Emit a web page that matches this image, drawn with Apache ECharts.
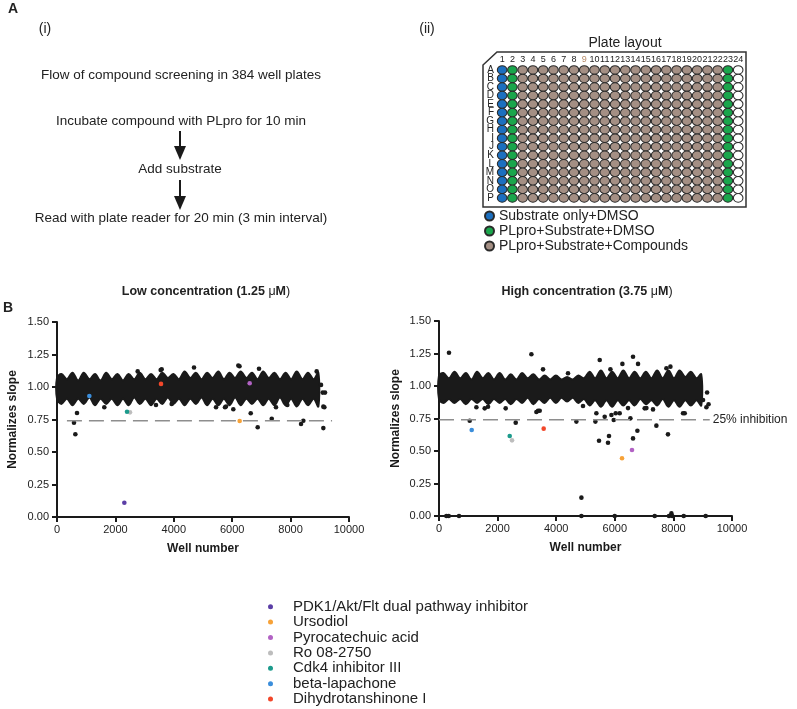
<!DOCTYPE html>
<html>
<head>
<meta charset="utf-8">
<script src="https://cdn.jsdelivr.net/npm/echarts@6/dist/echarts.min.js"></script>
<style>
  html, body { margin: 0; padding: 0; background: #fff; }
  #chart { width: 797px; height: 709px; }
</style>
</head>
<body>
<div id="chart"></div>
<script>
// ---- plate layout ----
const plateRows = ['A', 'B', 'C', 'D', 'E', 'F', 'G', 'H', 'I', 'J', 'K', 'L', 'M', 'N', 'O', 'P'];
const plateCols = ['1', '2', '3', '4', '5', '6', '7', '8', '9', '10', '11', '12', '13', '14', '15', '16', '17', '18', '19', '20', '21', '22', '23', '24'];
const substrateOnlyCols = ['1'];
const dmsoCols = ['2', '23'];
const blankCols = ['24'];
const plateGroups = ['Substrate only+DMSO', 'PLpro+Substrate+DMSO', 'PLpro+Substrate+Compounds'];

// ---- screening data ----
const compoundNames = ['PDK1/Akt/Flt dual pathway inhibitor', 'Ursodiol', 'Pyrocatechuic acid', 'Ro 08-2750', 'Cdk4 inhibitor III', 'beta-lapachone', 'Dihydrotanshinone I'];
const lowCompoundWells = [2306, 6256, 6599, 2500, 2398, 1107, 3562];
const lowCompoundSlopes = [0.11, 0.738, 1.029, 0.805, 0.81, 0.931, 1.024];
const highCompoundWells = [null, 6246, 6587, 2492, 2413, 1116, 3573];
const highCompoundSlopes = [null, 0.444, 0.508, 0.582, 0.615, 0.662, 0.672];

// edges of the dense black band (most wells), one bulge per plate
const bandWells = [0, 150, 340, 530, 725, 915, 1110, 1300, 1490, 1685, 1875, 2070, 2260, 2450, 2645, 2835, 3030, 3220, 3410, 3605, 3795, 3990, 4180, 4370, 4565, 4755, 4950, 5140, 5330, 5525, 5715, 5910, 6100, 6290, 6485, 6675, 6870, 7060, 7250, 7445, 7635, 7830, 8020, 8210, 8405, 8595, 8790, 8950];
const lowBandTop = [1.07, 1.10, 1.06, 1.11, 1.05, 1.11, 1.06, 1.10, 1.05, 1.11, 1.06, 1.10, 1.05, 1.10, 1.06, 1.11, 1.06, 1.10, 1.06, 1.11, 1.07, 1.10, 1.06, 1.12, 1.07, 1.11, 1.06, 1.11, 1.07, 1.12, 1.06, 1.11, 1.07, 1.12, 1.07, 1.11, 1.06, 1.12, 1.07, 1.11, 1.06, 1.11, 1.06, 1.12, 1.06, 1.11, 1.06, 1.11];
const lowBandBottom = [0.91, 0.87, 0.91, 0.86, 0.91, 0.87, 0.92, 0.86, 0.91, 0.87, 0.91, 0.86, 0.91, 0.86, 0.92, 0.87, 0.91, 0.86, 0.91, 0.87, 0.92, 0.87, 0.91, 0.86, 0.91, 0.87, 0.92, 0.86, 0.91, 0.86, 0.91, 0.86, 0.92, 0.86, 0.91, 0.87, 0.91, 0.86, 0.91, 0.86, 0.92, 0.86, 0.91, 0.85, 0.91, 0.86, 0.91, 0.85];
const highBandTop = [1.08, 1.10, 1.06, 1.11, 1.06, 1.10, 1.05, 1.11, 1.06, 1.10, 1.05, 1.10, 1.05, 1.09, 1.05, 1.10, 1.06, 1.09, 1.05, 1.08, 1.05, 1.08, 1.05, 1.07, 1.05, 1.08, 1.06, 1.11, 1.06, 1.12, 1.06, 1.11, 1.06, 1.12, 1.06, 1.11, 1.06, 1.11, 1.06, 1.12, 1.06, 1.12, 1.06, 1.12, 1.07, 1.11, 1.06, 1.09];
const highBandBottom = [0.90, 0.87, 0.90, 0.87, 0.90, 0.86, 0.90, 0.87, 0.90, 0.86, 0.90, 0.87, 0.90, 0.86, 0.90, 0.87, 0.91, 0.86, 0.90, 0.87, 0.91, 0.87, 0.91, 0.88, 0.91, 0.87, 0.90, 0.85, 0.89, 0.84, 0.89, 0.84, 0.89, 0.85, 0.89, 0.85, 0.90, 0.86, 0.89, 0.85, 0.90, 0.84, 0.89, 0.84, 0.89, 0.85, 0.89, 0.85];

// single wells outside the band
const lowOutlierWells = [582, 628, 685, 6634, 6873, 7354, 8357, 8436, 9121, 6038, 5754, 6210, 6250, 6918, 4692, 2763, 3551, 3585, 8893, 9042, 9179, 9121, 9156, 9100, 3390, 3928, 5446, 5788, 7500, 7888, 1620];
const lowOutlierSlopes = [0.725, 0.636, 0.80, 0.798, 0.69, 0.756, 0.715, 0.74, 0.684, 0.829, 0.844, 1.165, 1.16, 1.14, 1.15, 1.12, 1.13, 1.137, 1.12, 1.016, 0.957, 0.849, 0.844, 0.957, 0.862, 0.87, 0.844, 0.85, 0.844, 0.862, 0.844];
const highOutlierWells = [341, 3153, 5485, 6622, 6793, 7761, 7898, 6259, 5850, 3550, 4403,
  1048, 2618, 4689, 5338, 5461, 5768, 5802, 5963, 6167, 6532, 6622, 6771, 7419, 7815, 4860, 5371, 5655,
  1276, 1560, 2276, 3324, 3381, 4915, 5884, 6031, 6451, 7078, 7304, 8386, 9011, 9126, 3437, 1673, 7020, 8329, 9150, 9200,
  251, 331, 683, 4860, 5997, 7362, 7850, 7932, 7960, 8352, 9102];
const highOutlierSlopes = [1.256, 1.244, 1.20, 1.225, 1.17, 1.136, 1.149, 1.17, 1.128, 1.128, 1.098,
  0.733, 0.718, 0.726, 0.726, 0.579, 0.564, 0.615, 0.738, 0.79, 0.751, 0.597, 0.656, 0.695, 0.628, 0.141, 0.79, 0.764,
  0.836, 0.828, 0.828, 0.80, 0.81, 0.846, 0.777, 0.79, 0.83, 0.83, 0.82, 0.79, 0.892, 0.836, 0.81, 0.84, 0.828, 0.79, 0.95, 0.86,
  0, 0, 0, 0, 0, 0, 0, 0.02, 0, 0, 0];

const inhibitionCutoff = 0.74;
const lowCutoffSpan = [340, 9420];
const highCutoffSpan = [0, 9240];

// styles
const FONT = "'Liberation Sans', Arial, Helvetica, sans-serif";
const INK = '#1a1a1a';
const compoundColors = ['#5b3ea6', '#f7a238', '#b262c4', '#bdbdbd', '#1c9b8c', '#3b8edb', '#f2472a'];
const plateColors = ['#1c6fbf', '#1aa64c', '#a48f84'];

const chart = echarts.init(document.getElementById('chart'));

function pair(xs, ys) {
  return xs.map((x, i) => [x, ys[i]]).filter(p => p[0] != null);
}

function plateCells(cols) {
  const out = [];
  cols.forEach(c => plateRows.forEach(r => out.push([c, r])));
  return out;
}
const compoundCols = plateCols.filter(c => !substrateOnlyCols.includes(c) && !dmsoCols.includes(c) && !blankCols.includes(c));

function plateSeries(name, cols, color) {
  return {
    name: name, type: 'scatter', xAxisIndex: 0, yAxisIndex: 0,
    data: plateCells(cols), symbol: 'circle', symbolSize: [9.6, 8.6],
    itemStyle: { color: color, borderColor: '#2a2a2a', borderWidth: 1, opacity: 1 },
    silent: true
  };
}

function bandSeries(idx, top, bottom) {
  return {
    type: 'custom', xAxisIndex: idx, yAxisIndex: idx, data: [[0, 1]], silent: true, z: 1,
    renderItem: function (params, api) {
      const pts = [];
      bandWells.forEach((w, i) => pts.push(api.coord([w, top[i]])));
      for (let i = bandWells.length - 1; i >= 0; i--) pts.push(api.coord([bandWells[i], bottom[i]]));
      return {
        type: 'polygon', shape: { points: pts, smooth: 0.35 },
        style: { fill: INK, stroke: INK, lineWidth: 2, lineJoin: 'round' }
      };
    }
  };
}

function dotSeries(idx, name, data, color, z) {
  return {
    name: name, type: 'scatter', xAxisIndex: idx, yAxisIndex: idx, data: data,
    symbol: 'circle', symbolSize: 4.6, itemStyle: { color: color, opacity: 1 }, z: z, silent: true
  };
}

function cutoffSeries(idx, span, withLabel) {
  return {
    type: 'line', xAxisIndex: idx, yAxisIndex: idx, symbol: 'none', silent: true, z: 4,
    data: [[span[0], inhibitionCutoff], [span[1], inhibitionCutoff]],
    lineStyle: { color: '#8e8e8e', width: 1.5, type: [15, 7] },
    endLabel: withLabel ? { show: true, formatter: '25% inhibition', fontSize: 12, color: '#222', distance: 3, fontFamily: FONT } : { show: false }
  };
}

function scatterX(idx, gap) {
  return {
    type: 'value', gridIndex: idx, min: 0, max: 10000, interval: 2000,
    axisLine: { show: true, lineStyle: { color: INK, width: 2 } },
    axisTick: { show: true, length: 5, lineStyle: { color: INK, width: 2 } },
    axisLabel: { fontSize: 11, color: '#222', margin: 7, fontFamily: FONT, formatter: v => String(v) },
    splitLine: { show: false },
    name: 'Well number', nameLocation: 'middle', nameGap: gap,
    nameTextStyle: { fontSize: 12, fontWeight: 'bold', color: INK, fontFamily: FONT }
  };
}
function scatterY(idx, gap) {
  return {
    type: 'value', gridIndex: idx, min: 0, max: 1.5, interval: 0.25,
    axisLine: { show: true, lineStyle: { color: INK, width: 2 } },
    axisTick: { show: true, length: 5, lineStyle: { color: INK, width: 2 } },
    axisLabel: { fontSize: 11, color: '#222', margin: 8, fontFamily: FONT, formatter: v => v.toFixed(2) },
    splitLine: { show: false },
    name: 'Normalizes slope', nameLocation: 'middle', nameGap: gap,
    nameTextStyle: { fontSize: 12, fontWeight: 'bold', color: INK, fontFamily: FONT }
  };
}

function txt(text, x, y, size, weight, align) {
  return {
    type: 'text', x: x, y: y, silent: true,
    style: { text: text, fontSize: size, fontWeight: weight || 'normal', fill: '#222', fontFamily: FONT, align: align || 'center', verticalAlign: 'middle' }
  };
}
function richTitle(prefix, x, y) {
  return {
    type: 'text', x: x, y: y, silent: true,
    style: {
      text: '{b|' + prefix + '}{m|μ}{b|M}{m|)}', align: 'center', verticalAlign: 'middle', fill: '#222',
      rich: {
        b: { fontSize: 12.5, fontWeight: 'bold', fontFamily: FONT, fill: '#222' },
        m: { fontSize: 12.5, fontFamily: FONT, fill: '#222' }
      }
    }
  };
}
function arrow(x, y1, y2) {
  return [
    { type: 'line', silent: true, shape: { x1: x, y1: y1, x2: x, y2: y2 - 12 }, style: { stroke: INK, lineWidth: 2 } },
    { type: 'polygon', silent: true, shape: { points: [[x - 6, y2 - 14], [x + 6, y2 - 14], [x, y2]] }, style: { fill: INK } }
  ];
}

const graphics = [
  txt('A', 13, 9, 14, 'bold'),
  txt('(i)', 45, 29, 14),
  txt('(ii)', 427, 29, 14),
  txt('Flow of compound screening in 384 well plates', 181, 75, 13.5),
  txt('Incubate compound with PLpro for 10 min', 181, 121, 13.5),
  txt('Add substrate', 180, 169, 13.5),
  txt('Read with plate reader for 20 min (3 min interval)', 181, 218, 13.5),
  ...arrow(180, 131, 160),
  ...arrow(180, 180, 210),
  txt('Plate layout', 625, 43, 14),
  {
    type: 'polygon', silent: true, z: -1,
    shape: { points: [[483, 65], [497, 52], [746, 52], [746, 207], [483, 207]] },
    style: { fill: 'none', stroke: '#333', lineWidth: 1.5 }
  },
  txt('B', 8, 308, 14, 'bold'),
  richTitle('Low concentration (1.25 ', 206, 292),
  richTitle('High concentration (3.75 ', 587, 292)
];

const series = [
  plateSeries(plateGroups[0], substrateOnlyCols, plateColors[0]),
  plateSeries(plateGroups[1], dmsoCols, plateColors[1]),
  plateSeries(plateGroups[2], compoundCols, plateColors[2]),
  plateSeries('blank', blankCols, '#ffffff'),
  bandSeries(1, lowBandTop, lowBandBottom),
  bandSeries(2, highBandTop, highBandBottom),
  dotSeries(1, 'low outliers', pair(lowOutlierWells, lowOutlierSlopes), INK, 2),
  dotSeries(2, 'high outliers', pair(highOutlierWells, highOutlierSlopes), INK, 2),
  cutoffSeries(1, lowCutoffSpan, false),
  cutoffSeries(2, highCutoffSpan, true)
];
compoundNames.forEach((name, i) => {
  series.push(dotSeries(1, name, [[lowCompoundWells[i], lowCompoundSlopes[i]]], compoundColors[i], 5));
  if (highCompoundWells[i] != null) {
    series.push(dotSeries(2, name, [[highCompoundWells[i], highCompoundSlopes[i]]], compoundColors[i], 5));
  }
});

chart.setOption({
  animation: false,
  backgroundColor: '#ffffff',
  textStyle: { fontFamily: FONT },
  grid: [
    { left: 497, top: 65.7, width: 246.3, height: 136.5, containLabel: false, outerBoundsMode: 'none' },
    { left: 57, top: 322, width: 292, height: 195, containLabel: false, outerBoundsMode: 'none' },
    { left: 439, top: 321, width: 293, height: 195, containLabel: false, outerBoundsMode: 'none' }
  ],
  xAxis: [
    {
      type: 'category', gridIndex: 0, data: plateCols, position: 'top',
      axisLine: { show: false }, axisTick: { show: false }, splitLine: { show: false },
      axisLabel: { interval: 0, fontSize: 9, margin: 2, fontFamily: "'Liberation Sans Narrow', " + FONT, color: v => (v === '9' ? '#b58a68' : '#222') }
    },
    scatterX(1, 26),
    scatterX(2, 26)
  ],
  yAxis: [
    {
      type: 'category', gridIndex: 0, data: plateRows, inverse: true,
      axisLine: { show: false }, axisTick: { show: false }, splitLine: { show: false },
      axisLabel: { interval: 0, fontSize: 10, margin: 3, color: '#222', fontFamily: FONT }
    },
    scatterY(1, 38),
    scatterY(2, 37)
  ],
  legend: [
    {
      data: plateGroups, orient: 'vertical', left: 484, top: 209, padding: 0,
      itemWidth: 9, itemHeight: 9, itemGap: 1, icon: 'circle', selectedMode: false,
      textStyle: { fontSize: 14, lineHeight: 14, color: '#222', fontFamily: FONT }
    },
    {
      data: compoundNames, orient: 'vertical', left: 268, top: 599, padding: 0,
      itemWidth: 35, itemHeight: 5, itemGap: 0, icon: 'circle', selectedMode: false,
      textStyle: { fontSize: 15, lineHeight: 15.4, color: '#222', fontFamily: FONT }
    }
  ],
  graphic: graphics,
  series: series
});
</script>
</body>
</html>
